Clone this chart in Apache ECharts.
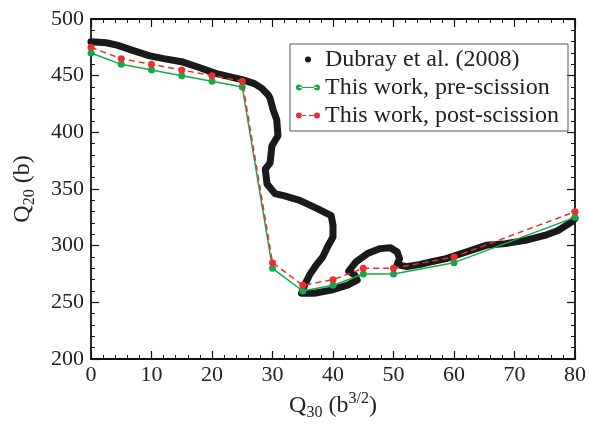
<!DOCTYPE html>
<html>
<head>
<meta charset="utf-8">
<script src="https://cdn.jsdelivr.net/npm/echarts@6/dist/echarts.min.js"></script>
<style>
  html, body { margin: 0; padding: 0; background: #fff; }
  #chart { width: 589px; height: 426px; }
</style>
</head>
<body>
<div id="chart"></div>
<script>
// Dubray et al. (2008) fission path
var dubrayQ30 = [0, 2.5, 4.3, 6.5, 9.7, 12, 15.2, 18, 20.6, 23, 25, 27, 28.2, 29.3, 29.6, 30.1, 30.7, 30.9, 29.9, 29.6, 28.8, 29.1, 30.4, 32, 34.5, 37.5, 39.7, 40, 40, 39.1, 38.3, 37.2, 36.1, 35.3, 34.8, 36.9, 39.7, 42.4, 44, 43.6, 42.6, 43.8, 45.7, 47.8, 49.5, 50.6, 51, 50.6, 52.2, 54.4, 56, 58.7, 62, 65.3, 68.5, 71.8, 75, 77.2, 79.4, 80];
var dubrayQ20 = [480, 479, 477, 473, 467.5, 465, 462, 457, 452, 449, 446.5, 443, 439, 433, 430, 420, 411, 397, 388, 373, 367.5, 354.4, 346, 344, 340, 332.5, 326.6, 318, 307.6, 299, 290, 282.7, 274, 265, 258, 258, 260.8, 265.2, 269.6, 274, 277.5, 285.7, 293, 297.4, 298.2, 294.4, 288.6, 283.3, 281.5, 283.5, 285.5, 288.6, 294.4, 300.3, 301.8, 304.7, 309, 313.4, 320.8, 324];

// this work
var workQ30 = [0, 5, 10, 15, 20, 25, 30, 35, 40, 45, 50, 60, 80];
var preQ20 = [470, 460, 455, 450, 445, 440, 280, 260, 265, 275, 275, 285, 325];
var postQ20 = [475, 465, 460, 455, 450, 445, 285, 265, 270, 280, 280, 290, 330];

var xTicks = [0, 10, 20, 30, 40, 50, 60, 70, 80];
var yTicks = [200, 250, 300, 350, 400, 450, 500];

var seriesNames = ['Dubray et al. (2008)', 'This work, pre-scission', 'This work, post-scission'];

function pairs(xs, ys) {
  var out = [];
  for (var i = 0; i < xs.length; i++) out.push([xs[i], ys[i]]);
  return out;
}

var serif = '"Liberation Serif", "DejaVu Serif", serif';
var green = '#14a84c';
var red = '#e8312f';

function axisBase(extra) {
  var a = {
    type: 'value',
    axisLine: { show: true, onZero: false, lineStyle: { color: '#111', width: 1.8 } },
    axisTick: { show: true, inside: true, length: 8, lineStyle: { color: '#111', width: 1.2 } },
    minorTick: { show: true, splitNumber: 5, length: 4, lineStyle: { color: '#111', width: 1 } },
    splitLine: { show: false },
    minorSplitLine: { show: false }
  };
  for (var k in extra) a[k] = extra[k];
  return a;
}

var chart = echarts.init(document.getElementById('chart'));
var option = {
  backgroundColor: '#fff',
  animation: false,
  grid: { left: 87, right: 12, top: 19, bottom: 65 },
  legend: {
    orient: 'vertical',
    left: 290,
    top: 44,
    padding: [3.5, 9, 3.5, 6],
    itemGap: 4,
    itemWidth: 24,
    itemHeight: 6,
    borderColor: '#555',
    borderWidth: 1,
    itemStyle: { borderWidth: 0 },
    textStyle: { fontFamily: serif, fontSize: 24, lineHeight: 23, color: '#222' },
    data: [
      { name: seriesNames[0], icon: 'circle' },
      { name: seriesNames[1], icon: 'path://M0,3a3,3 0 1,0 6,0a3,3 0 1,0 -6,0z M3,2.4h18v1.2h-18z M18,3a3,3 0 1,0 6,0a3,3 0 1,0 -6,0z' },
      { name: seriesNames[2], icon: 'path://M0,3a3,3 0 1,0 6,0a3,3 0 1,0 -6,0z M5,2.4h5v1.2h-5z M13,2.4h5v1.2h-5z M18,3a3,3 0 1,0 6,0a3,3 0 1,0 -6,0z' }
    ]
  },
  xAxis: [
    axisBase({
      min: 0, max: 80, interval: 10, position: 'bottom',
      axisLabel: { fontFamily: serif, fontSize: 22, color: '#222', margin: 5 },
      name: 'Q{sub|30} (b{sup|3/2})',
      nameLocation: 'middle',
      nameGap: 32,
      nameTextStyle: {
        fontFamily: serif, fontSize: 24, color: '#222', lineHeight: 30,
        rich: {
          sub: { fontFamily: serif, fontSize: 16, color: '#222', lineHeight: 15, verticalAlign: 'bottom' },
          sup: { fontFamily: serif, fontSize: 16, color: '#222', lineHeight: 15, verticalAlign: 'top' }
        }
      }
    }),
    axisBase({ min: 0, max: 80, interval: 10, position: 'top', axisLabel: { show: false } })
  ],
  yAxis: [
    axisBase({
      min: 200, max: 500, interval: 50, position: 'left',
      axisLabel: { fontFamily: serif, fontSize: 22, color: '#222', margin: 7 },
      name: 'Q{sub|20} (b)',
      nameLocation: 'middle',
      nameRotate: 90,
      nameGap: 53,
      nameTextStyle: {
        fontFamily: serif, fontSize: 24, color: '#222', lineHeight: 30,
        rich: {
          sub: { fontFamily: serif, fontSize: 16, color: '#222', lineHeight: 15, verticalAlign: 'bottom' }
        }
      }
    }),
    axisBase({ min: 200, max: 500, interval: 50, position: 'right', axisLabel: { show: false } })
  ],
  series: [
    {
      name: seriesNames[0],
      type: 'line',
      xAxisIndex: 0, yAxisIndex: 0,
      data: pairs(dubrayQ30, dubrayQ20),
      showSymbol: false,
      symbol: 'none',
      color: '#1a1a1a',
      lineStyle: { color: '#1a1a1a', width: 7, cap: 'round', join: 'round' },
      z: 1
    },
    {
      name: seriesNames[1],
      type: 'line',
      xAxisIndex: 0, yAxisIndex: 0,
      data: pairs(workQ30, preQ20),
      symbol: 'circle',
      symbolSize: 7,
      color: green,
      itemStyle: { color: green, borderWidth: 0 },
      lineStyle: { color: green, width: 1.5 },
      z: 3
    },
    {
      name: seriesNames[2],
      type: 'line',
      xAxisIndex: 0, yAxisIndex: 0,
      data: pairs(workQ30, postQ20),
      symbol: 'circle',
      symbolSize: 7,
      color: red,
      itemStyle: { color: red, borderWidth: 0 },
      lineStyle: { color: red, width: 1.5, type: [6, 4] },
      z: 4
    }
  ]
};
chart.setOption(option);
</script>
</body>
</html>
